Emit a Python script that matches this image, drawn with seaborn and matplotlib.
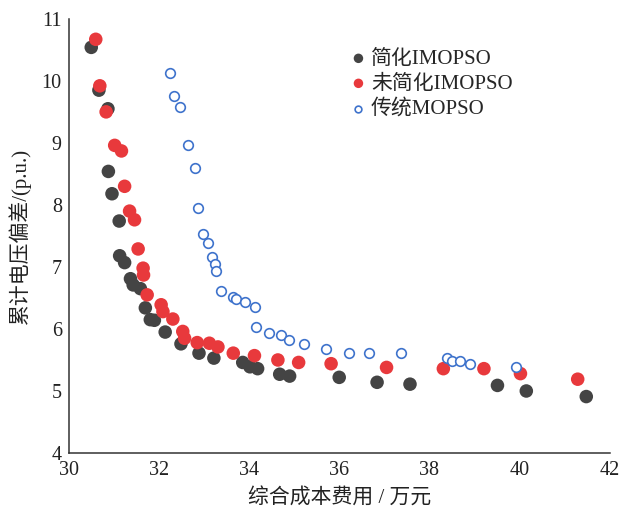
import matplotlib
matplotlib.use("Agg")
import matplotlib.pyplot as plt
import seaborn as sns
import pandas as pd

# 简化IMOPSO
x_simp = [30.50, 30.67, 30.87, 30.88, 30.96, 31.12, 31.13, 31.24, 31.37, 31.43, 31.59, 31.70,
          31.81, 31.90, 32.14, 32.49, 32.89, 33.22, 33.86, 34.02, 34.19, 34.68, 34.90, 36.00,
          36.84, 37.57, 39.51, 40.15, 41.48]
y_simp = [10.54, 9.85, 9.55, 8.54, 8.18, 7.74, 7.18, 7.07, 6.81, 6.71, 6.65, 6.34,
          6.15, 6.14, 5.95, 5.76, 5.61, 5.53, 5.46, 5.39, 5.36, 5.27, 5.24, 5.22,
          5.14, 5.11, 5.09, 5.00, 4.91]
# 未简化IMOPSO
x_unsimp = [30.60, 30.69, 30.83, 31.02, 31.17, 31.24, 31.35, 31.46, 31.54, 31.65, 31.66, 31.74,
            32.05, 32.09, 32.31, 32.53, 32.57, 32.85, 33.12, 33.31, 33.65, 34.12, 34.64, 35.10,
            35.82, 37.05, 38.31, 39.21, 40.02, 41.29]
y_unsimp = [10.67, 9.92, 9.50, 8.96, 8.87, 8.30, 7.90, 7.76, 7.29, 6.98, 6.87, 6.55,
            6.39, 6.28, 6.16, 5.96, 5.85, 5.78, 5.77, 5.71, 5.61, 5.57, 5.50, 5.46,
            5.44, 5.38, 5.36, 5.36, 5.28, 5.19]
# 传统MOPSO
x_trad = [32.24, 32.33, 32.47, 32.65, 32.80, 32.86, 32.98, 33.08, 33.17, 33.25, 33.27, 33.37,
          33.64, 33.70, 33.91, 34.13, 34.16, 34.45, 34.70, 34.89, 35.23, 35.71, 36.21, 36.67,
          37.38, 38.38, 38.51, 38.68, 38.89, 39.93]
y_trad = [10.13, 9.75, 9.58, 8.97, 8.59, 7.95, 7.53, 7.39, 7.16, 7.05, 6.94, 6.61,
          6.52, 6.48, 6.44, 6.36, 6.03, 5.93, 5.90, 5.82, 5.75, 5.68, 5.61, 5.61,
          5.61, 5.53, 5.49, 5.48, 5.43, 5.38]

x_ticks = [30, 32, 34, 36, 38, 40, 42]
y_ticks = [4, 5, 6, 7, 8, 9, 10, 11]

sns.set_style("white")
plt.rcParams['font.family'] = ['Liberation Serif', 'Noto Sans CJK SC']
plt.rcParams['axes.unicode_minus'] = False

fig = plt.figure(figsize=(6.19, 5.09), dpi=100)
ax = fig.add_axes([0.111, 0.110, 0.874, 0.853])

df1 = pd.DataFrame({"x": x_simp, "y": y_simp})
df2 = pd.DataFrame({"x": x_unsimp, "y": y_unsimp})
df3 = pd.DataFrame({"x": x_trad, "y": y_trad})

sns.scatterplot(data=df1, x="x", y="y", ax=ax, color="#444444", s=95, edgecolor="none",
                label="简化IMOPSO", zorder=3)
sns.scatterplot(data=df2, x="x", y="y", ax=ax, color="#e8393c", s=95, edgecolor="none",
                label="未简化IMOPSO", zorder=4)
sns.scatterplot(data=df3, x="x", y="y", ax=ax, facecolor="white", edgecolor="#3f73cc",
                s=48, linewidth=1.2, label="传统MOPSO", zorder=5)

ax.set_xlim(30, 42)
ax.set_ylim(4, 11)
ax.set_xticks(x_ticks)
ax.set_yticks(y_ticks)
ax.tick_params(direction="in", length=6, width=1.1, labelsize=14.5, colors="#222222")
ax.tick_params(axis="x", pad=6)
ax.tick_params(axis="y", pad=5)
for side in ["top", "right"]:
    ax.spines[side].set_visible(False)
for side in ["left", "bottom"]:
    ax.spines[side].set_color("#333333")
    ax.spines[side].set_linewidth(1.1)

ax.set_xlabel("综合成本费用 / 万元", fontsize=15, color="#222222", labelpad=6)
ax.set_ylabel("累计电压偏差/(p.u.)", fontsize=15, color="#222222", labelpad=8)

leg = ax.legend(loc="upper left", bbox_to_anchor=(0.524, 0.93), frameon=False,
                fontsize=15, markerscale=0.7, handlelength=0.6, handletextpad=0.3,
                labelspacing=0.26, borderaxespad=0, borderpad=0)

fig.savefig("out.png", dpi=100)
